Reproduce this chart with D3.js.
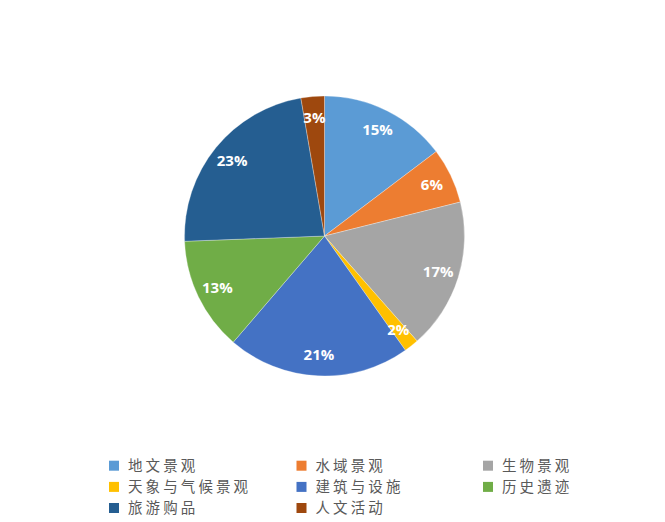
<!DOCTYPE html>
<html><head><meta charset="utf-8">
<script src="https://cdn.jsdelivr.net/npm/d3@7"></script>
<style>body{margin:0;background:#fff;}</style>
</head><body>
<svg id="chart" width="665" height="522"></svg>
<script>
const categories = ["地文景观","水域景观","生物景观","天象与气候景观","建筑与设施","历史遗迹","旅游购品","人文活动"];
const values = [14.7, 6.4, 17.4, 1.7, 21.1, 13.1, 22.9, 2.7];
const colors = ["#5B9BD5","#ED7D31","#A5A5A5","#FFC000","#4472C4","#70AD47","#255E91","#9E480E"];

const svg = d3.select("#chart");
const cx = 324.5, cy = 236, r = 140;
const data = categories.map((c,i)=>({name:c, value:values[i], color:colors[i]}));
const total = d3.sum(values);
const pie = d3.pie().value(d=>d.value).sort(null);
const arcs = pie(data);
const arc = d3.arc().innerRadius(0).outerRadius(r);
const labelArc = d3.arc().innerRadius(119).outerRadius(119);
const g = svg.append("g").attr("transform",`translate(${cx},${cy})`);
g.selectAll("path").data(arcs).enter().append("path")
  .attr("d",arc).attr("fill",d=>d.data.color).attr("stroke","#fff").attr("stroke-width",0.3);
g.selectAll("text").data(arcs).enter().append("text")
  .attr("transform",d=>`translate(${labelArc.centroid(d)})`)
  .attr("text-anchor","middle").attr("dy","0.36em")
  .attr("font-family","'Open Sans', 'DejaVu Sans', sans-serif").attr("font-weight","bold")
  .attr("font-size","15px").attr("fill","#fff")
  .text(d=>Math.round(d.data.value/total*100)+"%");

const colX = [109, 296.5, 483];
const rowY = [465.7, 486.9, 508];
const lg = svg.append("g");
data.forEach((d,i)=>{
  const col = i%3, row = Math.floor(i/3);
  lg.append("rect").attr("x",colX[col]).attr("y",rowY[row]-5).attr("width",10).attr("height",10).attr("fill",d.color);
  lg.append("text").attr("x",colX[col]+19).attr("y",rowY[row]).attr("dy","0.36em")
    .attr("font-family","'Noto Sans CJK SC', sans-serif").attr("font-size","14.5px")
    .attr("letter-spacing","3.1px").attr("fill","#595959")
    .text(d.name);
});
</script>
</body></html>
